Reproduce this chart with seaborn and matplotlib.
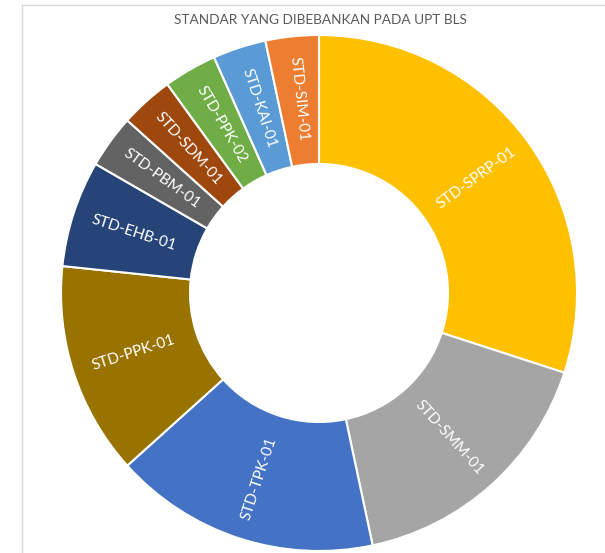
import matplotlib
matplotlib.use('Agg')
import matplotlib.pyplot as plt
import matplotlib.lines as mlines
import seaborn as sns

# data (count of standards per code)
labels = ['STD-SPRP-01', 'STD-SMM-01', 'STD-TPK-01', 'STD-PPK-01', 'STD-EHB-01',
          'STD-PBM-01', 'STD-SDM-01', 'STD-PPK-02', 'STD-KAI-01', 'STD-SIM-01']
counts = [9, 5, 5, 4, 2, 1, 1, 1, 1, 1]
colors = ['#FFC000', '#A5A5A5', '#4472C4', '#997300', '#264478',
          '#636363', '#9E480E', '#70AD47', '#5B9BD5', '#ED7D31']
title = 'STANDAR YANG DIBEBANKAN PADA UPT BLS'

sns.set_theme(style='white')
plt.rcParams['font.family'] = ['Lato', 'DejaVu Sans']

pal = sns.color_palette(colors)
fig = plt.figure(figsize=(6.05, 5.53), dpi=100)
ax = fig.add_axes([61/605, 2/553, 516/605, 516/553])

wedges, texts = ax.pie(counts, labels=labels, colors=pal, startangle=90, counterclock=False,
                       radius=1, labeldistance=0.755, rotatelabels=True,
                       wedgeprops=dict(width=0.5, edgecolor='white', linewidth=1.5),
                       textprops=dict(color='white', fontsize=11))
for t in texts:
    t.set_horizontalalignment('center')
    t.set_verticalalignment('center')
    t.set_rotation_mode('anchor')

ax.set_xlim(-1, 1)
ax.set_ylim(-1, 1)
ax.set_aspect('equal')
ax.axis('off')

fig.text(320/605, 1 - 20/553, title, ha='center', va='center', color='#595959', fontsize=9.8)

# chart area border (top and left edges visible)
fig.add_artist(mlines.Line2D([22/605, 1], [1 - 5/553, 1 - 5/553], color='#D9D9D9', lw=1))
fig.add_artist(mlines.Line2D([22/605, 22/605], [0, 1 - 5/553], color='#D9D9D9', lw=1))

fig.savefig('out.png', dpi=100)
